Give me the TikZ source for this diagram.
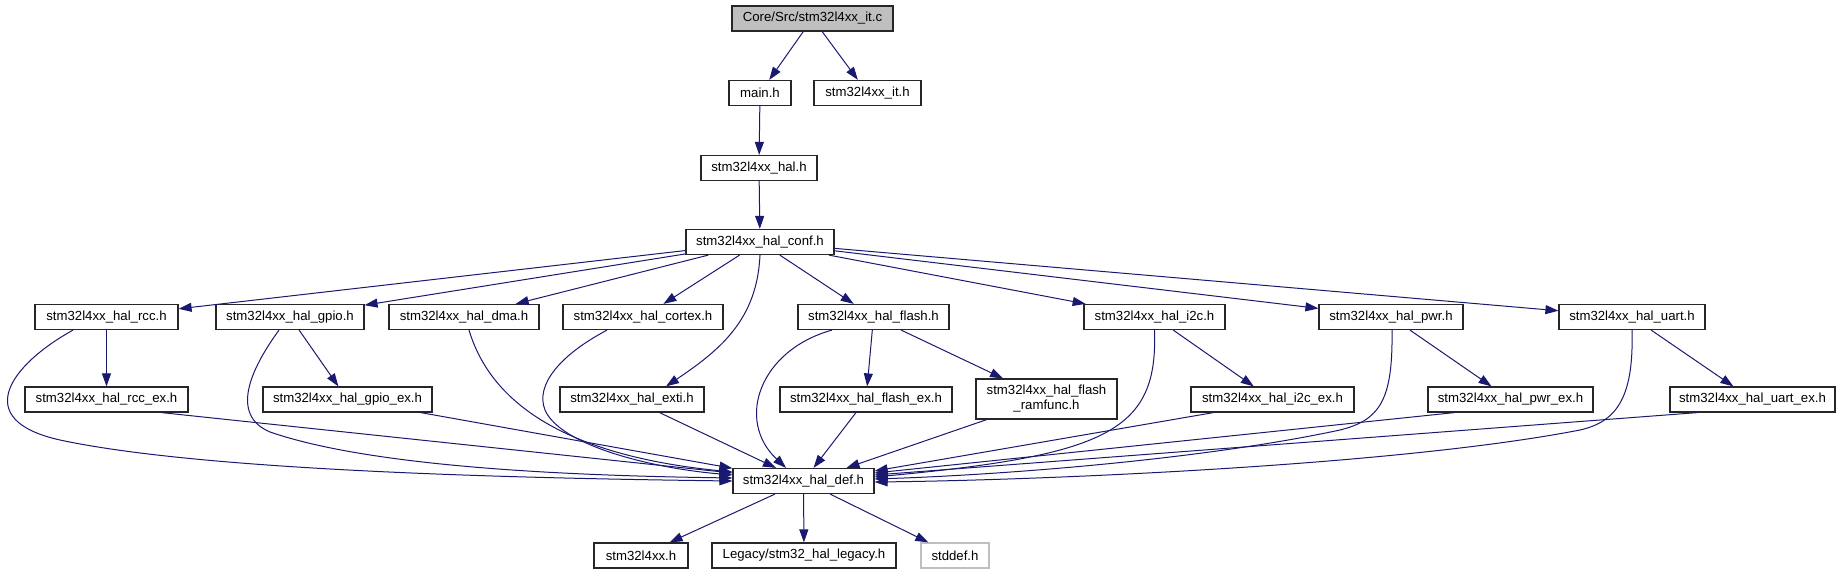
\documentclass[tikz,border=0pt]{standalone}
\usepackage{fontspec}
\setmainfont{Liberation Sans}
\usetikzlibrary{arrows.meta}

\definecolor{modra}{HTML}{191970}
\definecolor{seda}{HTML}{BFBFBF}

\tikzset{
  soubor/.style={draw=black!85, line width=1.2bp, fill=white, inner sep=0pt,
    minimum height=25bp, font=\fontsize{13.2bp}{15bp}\selectfont},
  hrana/.style={draw=modra, line width=1bp, -{Triangle[length=13bp,width=9bp]}},
}

\begin{document}
\begin{tikzpicture}[x=1bp, y=-1bp]
        \useasboundingbox (0,0) rectangle (1842,575);

        % soubory
        \node[soubor, fill=seda, minimum width=161bp] (itc) at (812.5,18.5) {Core/Src/stm32l4xx\_it.c};
        \node[soubor, minimum width=62bp] (mainh) at (760,93) {main.h};
        \node[soubor, minimum width=107bp] (ith) at (867.5,93) {stm32l4xx\_it.h};
        \node[soubor, minimum width=116bp] (hal) at (759,168) {stm32l4xx\_hal.h};
        \node[soubor, minimum width=148bp] (conf) at (760,242) {stm32l4xx\_hal\_conf.h};

        \node[soubor, minimum width=143bp] (rcc) at (106.5,317) {stm32l4xx\_hal\_rcc.h};
        \node[soubor, minimum width=148bp] (gpio) at (290,317) {stm32l4xx\_hal\_gpio.h};
        \node[soubor, minimum width=150bp] (dma) at (464,317) {stm32l4xx\_hal\_dma.h};
        \node[soubor, minimum width=160bp] (cortex) at (643,317) {stm32l4xx\_hal\_cortex.h};
        \node[soubor, minimum width=151bp] (flash) at (873.5,317) {stm32l4xx\_hal\_flash.h};
        \node[soubor, minimum width=141bp] (i2c) at (1154.5,317) {stm32l4xx\_hal\_i2c.h};
        \node[soubor, minimum width=144bp] (pwr) at (1391,317) {stm32l4xx\_hal\_pwr.h};
        \node[soubor, minimum width=146bp] (uart) at (1632,317) {stm32l4xx\_hal\_uart.h};

        \node[soubor, minimum width=163bp] (rccex) at (106.5,399.5) {stm32l4xx\_hal\_rcc\_ex.h};
        \node[soubor, minimum width=169bp] (gpioex) at (347.5,399.5) {stm32l4xx\_hal\_gpio\_ex.h};
        \node[soubor, minimum width=144bp] (exti) at (632,399.5) {stm32l4xx\_hal\_exti.h};
        \node[soubor, minimum width=172bp] (flashex) at (866,399.5) {stm32l4xx\_hal\_flash\_ex.h};
        \node[soubor, minimum width=141bp, minimum height=40bp, align=center] (ramfunc) at (1046.5,399) {stm32l4xx\_hal\_flash\\\_ramfunc.h};
        \node[soubor, minimum width=163bp] (i2cex) at (1272.5,399.5) {stm32l4xx\_hal\_i2c\_ex.h};
        \node[soubor, minimum width=165bp] (pwrex) at (1510.5,399.5) {stm32l4xx\_hal\_pwr\_ex.h};
        \node[soubor, minimum width=165bp] (uartex) at (1752.5,399.5) {stm32l4xx\_hal\_uart\_ex.h};

        \node[soubor, minimum width=141bp] (def) at (803.5,481) {stm32l4xx\_hal\_def.h};
        \node[soubor, minimum width=94bp] (l4xx) at (641,555.5) {stm32l4xx.h};
        \node[soubor, minimum width=184bp] (legacy) at (804,555.5) {Legacy/stm32\_hal\_legacy.h};
        \node[soubor, draw=seda, minimum width=68bp] (stddef) at (955,555.5) {stddef.h};

        % rovne hrany
        \draw[hrana] (itc) -- (mainh);
        \draw[hrana] (itc) -- (ith);
        \draw[hrana] (mainh) -- (hal);
        \draw[hrana] (hal) -- (conf);
        \foreach \cil in {rcc, gpio, dma, cortex, flash, i2c, pwr, uart}
            \draw[hrana] (conf) -- (\cil);
        \draw[hrana] (rcc) -- (rccex);
        \draw[hrana] (gpio) -- (gpioex);
        \draw[hrana] (flash) -- (flashex);
        \draw[hrana] (flash) -- (ramfunc);
        \draw[hrana] (i2c) -- (i2cex);
        \draw[hrana] (pwr) -- (pwrex);
        \draw[hrana] (uart) -- (uartex);
        \draw[hrana] ([xshift=55bp]rccex.south) -- ([yshift=8bp]def.west);
        \draw[hrana] (gpioex) -- (def);
        \draw[hrana] (exti) -- (def);
        \draw[hrana] (flashex) -- (def);
        \draw[hrana] (ramfunc) -- ([xshift=43bp]def.north);
        \draw[hrana] ([xshift=-59bp]i2cex.south) -- ([yshift=10bp]def.east);
        \draw[hrana] ([xshift=-56bp]pwrex.south) -- ([yshift=8bp]def.east);
        \draw[hrana] ([xshift=-55bp]uartex.south) -- ([yshift=6bp]def.east);
        \foreach \cil in {l4xx, legacy, stddef}
            \draw[hrana] (def) -- (\cil);

        % zakrivene hrany
        \draw[hrana] ([xshift=-33.5bp]rcc.south) .. controls (10,365) and (-30,420) .. (60,440)
            .. controls (200,470) and (500,478) .. (def.west);
        \draw[hrana] ([xshift=-11bp]gpio.south) .. controls (250,370) and (230,415) .. (270,432)
            .. controls (380,470) and (600,476) .. ([yshift=3bp]def.west);
        \draw[hrana] ([xshift=5bp]dma.south) .. controls (490,400) and (560,455) .. ([yshift=9bp]def.west);
        \draw[hrana] ([xshift=-36bp]cortex.south) .. controls (560,355) and (535,385) .. (545,410)
            .. controls (560,445) and (650,468) .. ([yshift=6bp]def.west);
        \draw[hrana] (conf.south) .. controls (757,320) and (720,350) .. ([xshift=34bp]exti.north);
        \draw[hrana] ([xshift=-41.5bp]flash.south) .. controls (760,350) and (735,420) .. ([xshift=-17.5bp]def.north);
        \draw[hrana] (i2c.south) .. controls (1158,430) and (1110,455) .. ([yshift=4bp]def.east);
        \draw[hrana] ([xshift=1bp]pwr.south) .. controls (1393,400) and (1380,420) .. (1340,430)
            .. controls (1200,460) and (1000,475) .. ([yshift=2bp]def.east);
        \draw[hrana] (uart.south) .. controls (1634,400) and (1615,422) .. (1580,430)
            .. controls (1400,465) and (1050,480) .. ([yshift=-1bp]def.east);
\end{tikzpicture}
\end{document}
